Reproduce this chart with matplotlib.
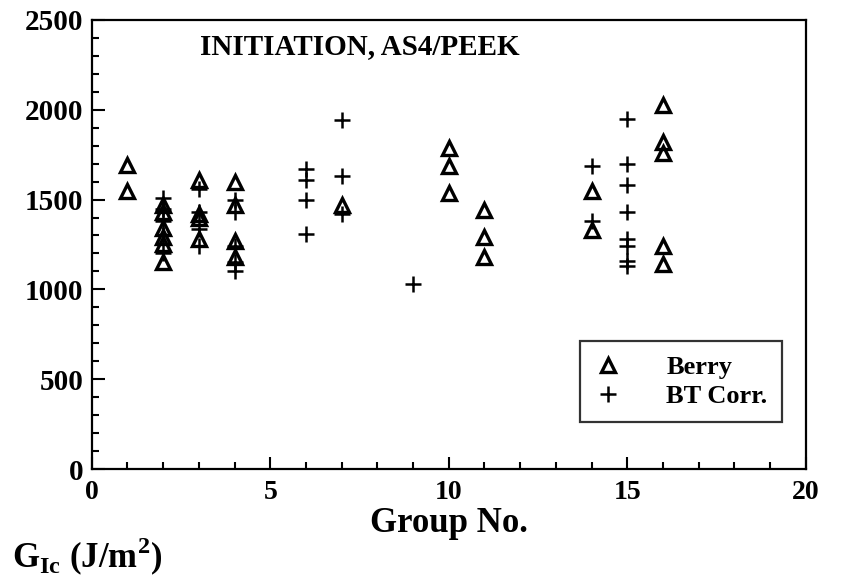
import matplotlib
matplotlib.use('Agg')
import matplotlib.pyplot as plt
from matplotlib.ticker import MultipleLocator

plt.rcParams['font.family'] = ['Liberation Serif', 'DejaVu Serif']
plt.rcParams['font.weight'] = 'bold'
plt.rcParams['mathtext.fontset'] = 'custom'
plt.rcParams['mathtext.rm'] = 'Liberation Serif:bold'
plt.rcParams['mathtext.bf'] = 'Liberation Serif:bold'

# Berry method (triangles)
berry_x = [1, 1,
           2, 2, 2, 2, 2, 2,
           3, 3, 3, 3,
           4, 4, 4, 4,
           7,
           10, 10, 10,
           11, 11, 11,
           14, 14,
           16, 16, 16, 16, 16]
berry_y = [1690, 1545,
           1470, 1430, 1340, 1290, 1250, 1150,
           1610, 1420, 1400, 1280,
           1600, 1470, 1270, 1180,
           1470,
           1785, 1685, 1535,
           1440, 1290, 1180,
           1545, 1330,
           2025, 1820, 1760, 1240, 1140]

# BT corrected (plus)
bt_x = [2, 2, 2, 2, 2,
        3, 3, 3, 3,
        4, 4, 4, 4, 4,
        6, 6, 6, 6,
        7, 7, 7,
        9,
        14, 14,
        15, 15, 15, 15, 15, 15, 15, 15]
bt_y = [1510, 1450, 1380, 1300, 1200,
        1560, 1430, 1335, 1240,
        1500, 1430, 1240, 1150, 1100,
        1670, 1610, 1500, 1310,
        1940, 1630, 1420,
        1030,
        1685, 1380,
        1950, 1700, 1580, 1430, 1280, 1240, 1160, 1130]

fig = plt.figure(figsize=(8.42, 5.8), dpi=100)
ax = fig.add_axes([0.109, 0.191, 0.848, 0.775])

ax.plot(berry_x, berry_y, linestyle='none', marker='^', markersize=10,
        markerfacecolor='none', markeredgecolor='black', markeredgewidth=2.4,
        label='Berry')
ax.plot(bt_x, bt_y, linestyle='none', marker='+', markersize=11,
        color='black', markeredgewidth=1.8, label='BT Corr.')

ax.set_xlim(0, 20)
ax.set_ylim(0, 2500)
ax.xaxis.set_major_locator(MultipleLocator(5))
ax.xaxis.set_minor_locator(MultipleLocator(1))
ax.yaxis.set_major_locator(MultipleLocator(500))
ax.yaxis.set_minor_locator(MultipleLocator(100))
ax.tick_params(which='both', direction='in', width=1.5, labelsize=21)
ax.tick_params(which='major', length=9)
ax.tick_params(which='minor', length=5)
ax.tick_params(axis='x', pad=8, labelsize=20)
ax.tick_params(axis='y', pad=6)
for s in ax.spines.values():
    s.set_linewidth(1.6)

ax.text(0.375, 0.94, 'INITIATION, AS4/PEEK', transform=ax.transAxes,
        ha='center', va='center', fontsize=21, fontweight='bold')

ax.set_xlabel('Group No.', fontsize=25, fontweight='bold', labelpad=1)

leg = ax.legend(loc='lower right', bbox_to_anchor=(0.985, 0.075),
                fontsize=19, frameon=True, fancybox=False,
                handletextpad=1.7, borderpad=0.55, labelspacing=0.2,
                handlelength=1.0)
leg.get_frame().set_edgecolor('black')
leg.get_frame().set_linewidth(1.6)

fig.text(0.014, 0.04, r'G$_{\mathrm{Ic}}$ (J/m$^{2}$)', fontsize=25,
         fontweight='bold', ha='left', va='center')

fig.savefig('out.png', dpi=100)
